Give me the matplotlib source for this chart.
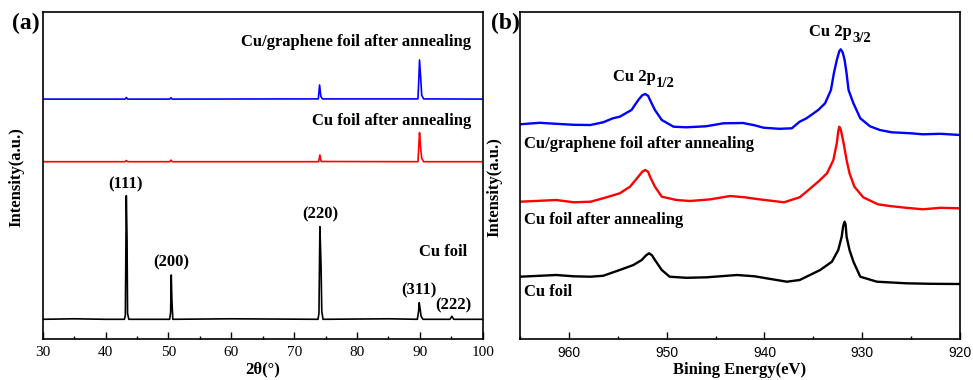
import numpy as np
import matplotlib
matplotlib.use("Agg")
import matplotlib.pyplot as plt
from matplotlib.ticker import MultipleLocator

SERIF = ["Liberation Serif", "DejaVu Serif"]

# ---- (a) XRD, 2theta (deg) vs intensity (a.u.) ----
xrd_cu_x = [30, 35, 40, 43.0, 43.15, 43.3, 43.42, 43.5, 43.7, 50.2, 50.35, 50.45, 50.55, 50.7,
            60, 73.8, 73.95, 74.1, 74.28, 74.4, 74.6, 85, 89.6, 89.8, 89.9, 90.05, 90.2, 90.5,
            94.8, 95.1, 95.4, 100]
xrd_cu_y = [20, 20.5, 20, 20, 24, 143.6, 99, 26, 20, 20, 27, 64.3, 40, 20,
            20.5, 20, 26, 112.6, 74, 28, 20, 20.5, 20, 28, 36.6, 30, 23, 20,
            20, 23, 20, 20]

xrd_ann_x = [30, 43.1, 43.3, 43.5, 50.2, 50.4, 50.6, 73.9, 74.1, 74.3, 89.7, 89.85, 89.95, 90.15,
             90.3, 90.6, 100]
xrd_ann_y = [177.6, 177.6, 178.8, 177.6, 177.6, 179.2, 177.6, 177.6, 184.3, 177.8, 177.6, 195,
             206.6, 190, 181, 177.6, 177.6]

xrd_gr_x = [30, 43.1, 43.3, 43.5, 50.2, 50.4, 50.6, 73.85, 74.05, 74.25, 74.5, 89.7, 89.85, 89.95,
            90.15, 90.3, 90.6, 100]
xrd_gr_y = [240.2, 240.2, 241.8, 240.2, 240.2, 241.6, 240.2, 240.4, 254.3, 243, 240.4, 240.4, 262,
            279.3, 260, 244, 240.4, 240.2]

xrd_peaks = ["(111)", "(200)", "(220)", "(311)", "(222)"]
xrd_peak_x = [43.25, 50.4, 74.1, 89.9, 95.4]
xrd_peak_y = [155.3, 76.6, 125, 49.3, 34.3]

# ---- (b) XPS, binding energy (eV) vs intensity (a.u.) ----
xps_gr_x = [965, 963, 961.3, 959.5, 957.8, 956.5, 955.5, 954.8, 953.6, 952.9, 952.5, 952.2,
            951.9, 951.7, 951.2, 950.5, 949.3, 948.0, 946, 944.2, 942.2, 941, 940.1, 938.5,
            937.2, 936.4, 935.7, 934.5, 933.8, 933.2, 932.9, 932.6, 932.35, 932.2, 932.0, 931.8,
            931.6, 931.4, 930.9, 930.2, 929.2, 928.2, 927, 925, 923.8, 922, 920]
xps_gr_y = [215, 216.5, 215.5, 214.5, 214.3, 217, 221, 222.6, 229.3, 239.3, 244, 245.3,
            243.5, 239.3, 229.3, 219.3, 212.6, 212, 213, 216, 216.3, 214, 211.6, 210.5,
            211, 217.6, 221, 229.3, 236, 249.3, 266, 279.3, 288, 290, 287, 279.3,
            266, 249.3, 236, 221, 213, 209.3, 207, 206, 205, 205.5, 204.3]

xps_ann_x = [965, 963, 961.3, 959.5, 957.8, 956.5, 954.8, 953.75, 952.9, 952.5, 952.2, 951.9,
             951.7, 951.2, 950.5, 949.0, 947.6, 945.5, 943.5, 942, 940.8, 938.0, 936.4, 935.7,
             934.5, 933.6, 932.95, 932.6, 932.45, 932.35, 932.2, 931.9, 931.6, 931.3, 930.8,
             929.9, 928.4, 927.2, 925.5, 923.8, 922, 920]
xps_ann_y = [137.6, 138.5, 139.3, 137, 137.6, 141, 146, 152.6, 162.6, 167.5, 169.3, 167.5,
             162.6, 152.6, 142.6, 139.3, 138.3, 140, 143.3, 142, 140.3, 137, 142, 147.6,
             157.6, 166, 179.3, 196, 208, 212.6, 210, 196, 179.3, 166, 152.6,
             142, 135, 133.3, 131.5, 130, 131.5, 131]

xps_cu_x = [965, 963, 961.3, 959.5, 957.8, 956.5, 954.8, 953.4, 952.55, 952.1, 951.8, 951.5,
            951.2, 950.5, 949.7, 948, 945.9, 942.8, 941, 939.8, 937.7, 936.4, 935.7, 934.3,
            933.1, 932.45, 932.1, 931.95, 931.8, 931.7, 931.6, 931.3, 930.9, 930.2, 928.5,
            925.5, 923, 920]
xps_cu_y = [62.6, 63.5, 64.3, 63, 62.6, 63.5, 69.3, 74.3, 79.3, 84, 86, 84,
            79.3, 69.3, 62.6, 61.5, 62, 64.3, 63, 61, 57.6, 59.3, 62.6, 69.3,
            77.6, 89.3, 102.6, 113, 117.6, 115, 102.6, 89.3, 77.6, 62.6, 57.6,
            56, 55.5, 55.3]

fig = plt.figure(figsize=(9.73, 3.8), dpi=100)
axa = fig.add_axes([42.7 / 973, 40.7 / 380, 440 / 973, 327.3 / 380])
axb = fig.add_axes([520 / 973, 40.7 / 380, 440 / 973, 327.3 / 380])

for ax in (axa, axb):
    ax.set_ylim(0, 327.3)
    ax.set_yticks([])
    for s in ax.spines.values():
        s.set_linewidth(1.2)
    ax.xaxis.set_minor_locator(MultipleLocator(5))
    ax.tick_params(axis="x", which="major", direction="in", length=5, width=1, pad=5, top=False)
    ax.tick_params(axis="x", which="minor", direction="in", length=2.5, width=1, top=False)

bold = dict(fontsize=12, fontweight="bold", family=SERIF)

# (a)
axa.plot(xrd_cu_x, xrd_cu_y, color="black", lw=1.2)
axa.plot(xrd_ann_x, xrd_ann_y, color="#ff0000", lw=1.2)
axa.plot(xrd_gr_x, xrd_gr_y, color="#0000ff", lw=1.2)
axa.set_xlim(30, 100)
axa.set_xticks(range(30, 101, 10))
axa.tick_params(axis="x", labelsize=11, labelfontfamily="Liberation Serif")
for t, x, y in zip(xrd_peaks, xrd_peak_x, xrd_peak_y):
    axa.text(x, y, t, ha="center", va="center", **bold)
axa.text(98.1, 297.6, "Cu/graphene foil after annealing", ha="right", va="center", **bold)
axa.text(98.1, 218.6, "Cu foil after annealing", ha="right", va="center", **bold)
axa.text(97.6, 87.6, "Cu foil", ha="right", va="center", **bold)
axa.set_xlabel("2θ(°)", **bold)
axa.set_ylabel("Intensity(a.u.)", **bold)
axa.xaxis.set_label_coords(0.5, -0.068)
axa.yaxis.set_label_coords(-0.0425, 0.497)

# (b)
for xs, ys, c in [(xps_cu_x, xps_cu_y, "black"), (xps_ann_x, xps_ann_y, "#ff0000"),
                  (xps_gr_x, xps_gr_y, "#0000ff")]:
    axb.plot(xs, ys, color=c, lw=1.7, solid_joinstyle="round")
axb.set_xlim(965, 920)
axb.set_xticks(range(960, 919, -10))
axb.tick_params(axis="x", labelsize=10, labelfontfamily="Liberation Sans")

# peak labels with a bigger subscript than mathtext gives
for x, y, sub in [(955.5, 262.3, "1/2"), (935.4, 307.3, "3/2")]:
    main = axb.text(x, y, "Cu 2p", ha="left", va="center", **bold)
    axb.annotate(sub, xy=(1, 0), xycoords=main, xytext=(0.3, -3.5),
                 textcoords="offset points", ha="left", va="bottom",
                 fontsize=10.5, fontweight="bold", family=SERIF)

axb.text(964.6, 195.3, "Cu/graphene foil after annealing", ha="left", va="center", **bold)
axb.text(964.6, 119.3, "Cu foil after annealing", ha="left", va="center", **bold)
axb.text(964.6, 47, "Cu foil", ha="left", va="center", **bold)
axb.set_xlabel("Bining Energy(eV)", **bold)
axb.set_ylabel("Intensity(a.u.)", **bold)
axb.xaxis.set_label_coords(0.5, -0.068)
axb.yaxis.set_label_coords(-0.039, 0.466)

fig.text(26 / 973, 1 - 23.3 / 380, "(a)", ha="center", va="center",
         fontsize=17, fontweight="bold", family=SERIF)
fig.text(505 / 973, 1 - 23.3 / 380, "(b)", ha="center", va="center",
         fontsize=17, fontweight="bold", family=SERIF)

fig.savefig("out.png", dpi=100)
